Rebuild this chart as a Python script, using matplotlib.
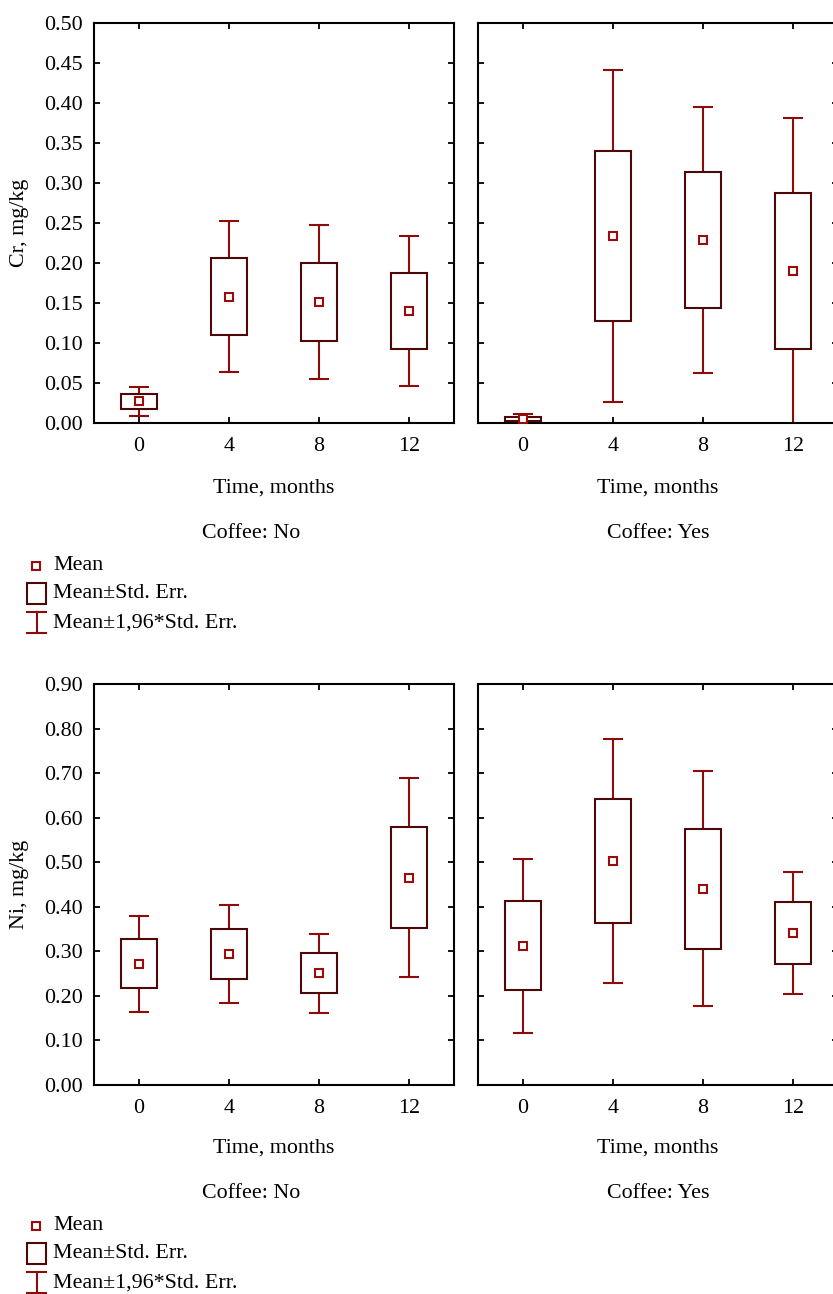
import numpy as np
import matplotlib.pyplot as plt
from matplotlib.patches import Rectangle
from matplotlib.lines import Line2D

plt.rcParams['font.family'] = ['Liberation Serif', 'DejaVu Serif']
plt.rcParams['font.size'] = 15.8

# months of follow-up
times = ['0', '4', '8', '12']

# Cr, mg/kg: mean and standard error per month
cr_no_mean = [0.027, 0.158, 0.151, 0.140]
cr_no_se = [0.009, 0.048, 0.049, 0.048]
cr_yes_mean = [0.005, 0.234, 0.229, 0.190]
cr_yes_se = [0.003, 0.106, 0.085, 0.0975]

# Ni, mg/kg: mean and standard error per month
ni_no_mean = [0.272, 0.294, 0.251, 0.466]
ni_no_se = [0.055, 0.056, 0.045, 0.114]
ni_yes_mean = [0.313, 0.503, 0.441, 0.342]
ni_yes_se = [0.0998, 0.140, 0.1345, 0.070]

BOX_C = '#4e0808'
WHISK_C = '#8e0b0b'
MEAN_C = '#9a0c0c'

W, H = 833, 1294
fig = plt.figure(figsize=(W / 100, H / 100), dpi=100)


def fx(x):
    return x / W


def fy(y):
    return 1 - y / H


def draw_panel(ax, mean, se, ymax, yticks, show_labels):
    mean = np.asarray(mean)
    se = np.asarray(se)
    pos = np.arange(len(mean))
    lo, hi = mean - se, mean + se
    wlo, whi = mean - 1.96 * se, mean + 1.96 * se
    bw, cw = 0.4, 0.22
    ax.vlines(pos, hi, whi, color=WHISK_C, lw=1.5, zorder=2)
    ax.vlines(pos, wlo, lo, color=WHISK_C, lw=1.5, zorder=2)
    ax.hlines(whi, pos - cw / 2, pos + cw / 2, color=WHISK_C, lw=1.5, zorder=2)
    ax.hlines(wlo, pos - cw / 2, pos + cw / 2, color=WHISK_C, lw=1.5, zorder=2)
    for p, a, b in zip(pos, lo, hi):
        ax.add_patch(Rectangle((p - bw / 2, a), bw, b - a, fill=False,
                               ec=BOX_C, lw=1.5, zorder=3))
    ax.plot(pos, mean, 's', ms=6, mfc='white', mec=MEAN_C, mew=1.5, zorder=4)
    ax.set_xlim(-0.5, len(mean) - 0.5)
    ax.set_ylim(0, ymax)
    ax.set_xticks(pos)
    ax.set_xticklabels(times)
    ax.set_yticks(yticks)
    ax.set_yticklabels(['%.2f' % t for t in yticks] if show_labels else [])
    ax.tick_params(direction='in', length=4, width=1.3, top=True, right=True,
                   labelsize=15.8, color='black')
    ax.tick_params(axis='x', pad=10)
    ax.tick_params(axis='y', pad=8)
    for s in ax.spines.values():
        s.set_linewidth(1.5)
    for lab in ax.get_xticklabels() + ax.get_yticklabels():
        lab.set_clip_on(False)


def draw_block(top, bottom, left_data, right_data, ymax, yticks, ylabel, dy):
    h = (bottom - top) / H
    b = fy(bottom)
    ax1 = fig.add_axes([fx(94), b, fx(360), h])
    ax2 = fig.add_axes([fx(477.7), b, fx(360), h])
    draw_panel(ax1, *left_data, ymax, yticks, True)
    draw_panel(ax2, *right_data, ymax, yticks, False)
    fig.text(fx(20), fy((top + bottom) / 2), ylabel, rotation=90,
             ha='center', va='center')
    fig.text(fx(274), fy(488 + dy), 'Time, months', ha='center', va='center')
    fig.text(fx(658), fy(488 + dy), 'Time, months', ha='center', va='center')
    fig.text(fx(251), fy(533 + dy), 'Coffee: No', ha='center', va='center')
    fig.text(fx(658), fy(533 + dy), 'Coffee: Yes', ha='center', va='center')

    # legend: mean marker, box and whisker symbols
    tr = fig.transFigure
    fig.add_artist(Line2D([fx(35.5)], [fy(566 + dy)], marker='s', ms=6,
                          mfc='white', mec=MEAN_C, mew=1.5, transform=tr))
    fig.add_artist(Rectangle((fx(27), fy(604 + dy)), fx(19), 21 / H,
                             fill=False, ec=BOX_C, lw=1.5, transform=tr))
    fig.add_artist(Line2D([fx(36.5), fx(36.5)], [fy(612 + dy), fy(633 + dy)],
                          color=WHISK_C, lw=1.5, transform=tr))
    for yy in (612, 633):
        fig.add_artist(Line2D([fx(27), fx(46)], [fy(yy + dy), fy(yy + dy)],
                              color=WHISK_C, lw=1.5, transform=tr))
    fig.text(fx(53), fy(566 + dy), 'Mean', va='center', ha='left')
    fig.text(fx(53), fy(594 + dy), 'Mean\u00b1Std. Err.', va='center', ha='left')
    fig.text(fx(53), fy(623 + dy), 'Mean\u00b11,96*Std. Err.', va='center', ha='left')


draw_block(23, 423, (cr_no_mean, cr_no_se), (cr_yes_mean, cr_yes_se),
           0.5, np.round(np.arange(0, 0.501, 0.05), 2), 'Cr, mg/kg', 0)
draw_block(684.3, 1085, (ni_no_mean, ni_no_se), (ni_yes_mean, ni_yes_se),
           0.9, np.round(np.arange(0, 0.901, 0.1), 2), 'Ni, mg/kg', 660)

fig.savefig('out.png', dpi=100)
